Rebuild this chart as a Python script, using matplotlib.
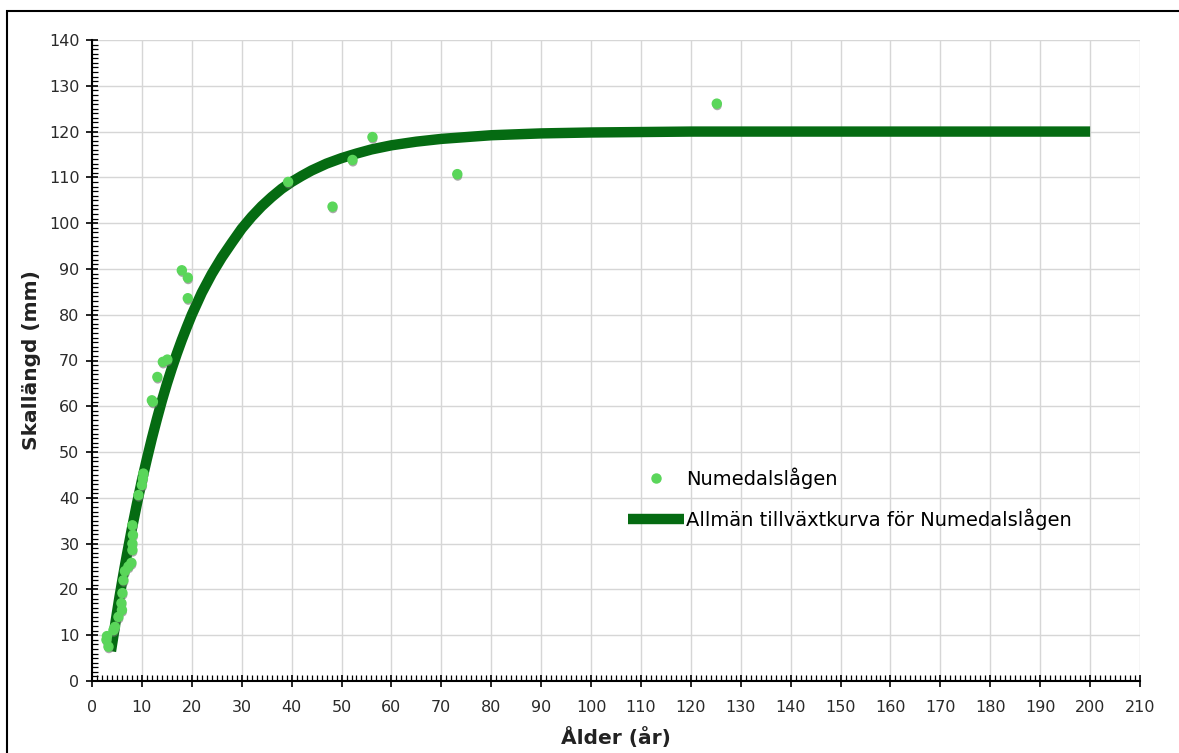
import matplotlib
matplotlib.use("Agg")
import matplotlib.pyplot as plt
import matplotlib.patheffects as pe
from matplotlib.patches import Rectangle
from matplotlib.ticker import MultipleLocator

# Observed data: age (years) and shell length (mm)
obs_age = [2.9, 3.3, 3.0, 4.3, 4.6, 5.3, 5.9, 6.0, 6.1, 6.3, 6.6, 7.3, 7.9, 8.1, 8.1,
           8.2, 8.1, 9.3, 10.0, 10.2, 10.3, 12.0, 12.2, 13.1, 14.2, 15.1, 18.0, 19.2,
           19.2, 39.3, 48.2, 52.2, 56.2, 73.2, 125.2]
obs_len = [9.0, 7.5, 9.8, 11.1, 11.8, 14.0, 17.0, 15.5, 19.2, 22.0, 24.0, 25.0, 25.8, 28.6,
           30.0, 31.9, 34.0, 40.6, 42.8, 44.2, 45.3, 61.3, 61.0, 66.4, 69.7, 70.2, 89.7,
           88.1, 83.6, 109.0, 103.6, 113.8, 118.8, 110.7, 126.1]

# General growth curve
curve_age = [3.8, 4.5, 5, 5.5, 6, 6.5, 7, 8, 9, 10, 11, 12, 13, 14, 15, 16, 17, 18, 19,
             20, 22, 24, 26, 28, 30, 32, 34, 36, 38, 40, 42, 44, 47, 50, 53, 56, 60,
             65, 70, 75, 80, 85, 90, 95, 100, 110, 120, 150, 200]
curve_len = [6.5, 11.3, 14.9, 18.3, 21.5, 24.6, 27.6, 33.3, 38.7, 43.8, 48.5, 53.0,
             57.2, 61.2, 64.9, 68.3, 71.5, 74.5, 77.3, 80.0, 84.8, 88.9, 92.5, 95.7,
             98.8, 101.4, 103.7, 105.7, 107.5, 109.0, 110.3, 111.5, 113.0, 114.2, 115.2,
             116.1, 117.0, 117.8, 118.4, 118.8, 119.2, 119.4, 119.6, 119.7, 119.8, 119.9,
             120.0, 120.0, 120.0]

obs_label = "Numedalslågen"
curve_label = "Allmän tillväxtkurva för Numedalslågen"
xlabel = "Ålder (år)"
ylabel = "Skallängd (mm)"

W, H = 1179, 753
fig = plt.figure(figsize=(W / 100, H / 100), dpi=100)
ax = fig.add_axes([92 / W, 1 - 681 / H, (1140 - 92) / W, (681 - 40) / H])

ax.plot(curve_age, curve_len, color="#056b12", lw=7.5, solid_capstyle="butt",
        solid_joinstyle="round", label=curve_label, zorder=3)
ax.plot(obs_age, obs_len, linestyle="none", marker="o", markersize=6.5,
        markerfacecolor="#5ad65a", markeredgecolor="#5ad65a", label=obs_label, zorder=4,
        path_effects=[pe.SimplePatchShadow(offset=(0.3, -1.5), shadow_rgbFace="#707070",
                                           alpha=0.6), pe.Normal()])

ax.set_xlim(0, 210)
ax.set_ylim(0, 140)
ax.xaxis.set_major_locator(MultipleLocator(10))
ax.yaxis.set_major_locator(MultipleLocator(10))
ax.xaxis.set_minor_locator(MultipleLocator(1))
ax.yaxis.set_minor_locator(MultipleLocator(1))
ax.tick_params(which="major", direction="inout", length=8, width=1.2, labelsize=11.5,
               colors="black", labelcolor="#2a2a2a")
ax.tick_params(axis="x", which="major", pad=10)
ax.tick_params(axis="y", which="major", pad=5)
ax.tick_params(which="minor", direction="in", length=4, width=0.9, colors="black")
ax.grid(True, which="major", color="#d6d6d6", linewidth=1)
ax.set_axisbelow(True)
for s in ["top", "right"]:
    ax.spines[s].set_visible(False)
for s in ["left", "bottom"]:
    ax.spines[s].set_linewidth(1.5)

ax.set_xlabel(xlabel, fontsize=14.5, fontweight="bold", labelpad=8, color="#222222")
ax.set_ylabel(ylabel, fontsize=14.5, fontweight="bold", labelpad=6, color="#222222")

handles, labels = ax.get_legend_handles_labels()
leg = ax.legend(handles[::-1], labels[::-1], loc="center left",
                bbox_to_anchor=(628 / W, 1 - 499 / H), bbox_transform=fig.transFigure,
                frameon=False, fontsize=14, handlelength=2.9, handletextpad=0.1,
                labelspacing=1.0, borderaxespad=0, borderpad=0)
leg.legend_handles[0].set_path_effects([])

fig.add_artist(Rectangle((7 / W, -0.05), 1.1, 1.05 - 11 / H,
                         transform=fig.transFigure, fill=False, edgecolor="black",
                         linewidth=1.5))

fig.savefig("out.png", dpi=100, facecolor="white")
